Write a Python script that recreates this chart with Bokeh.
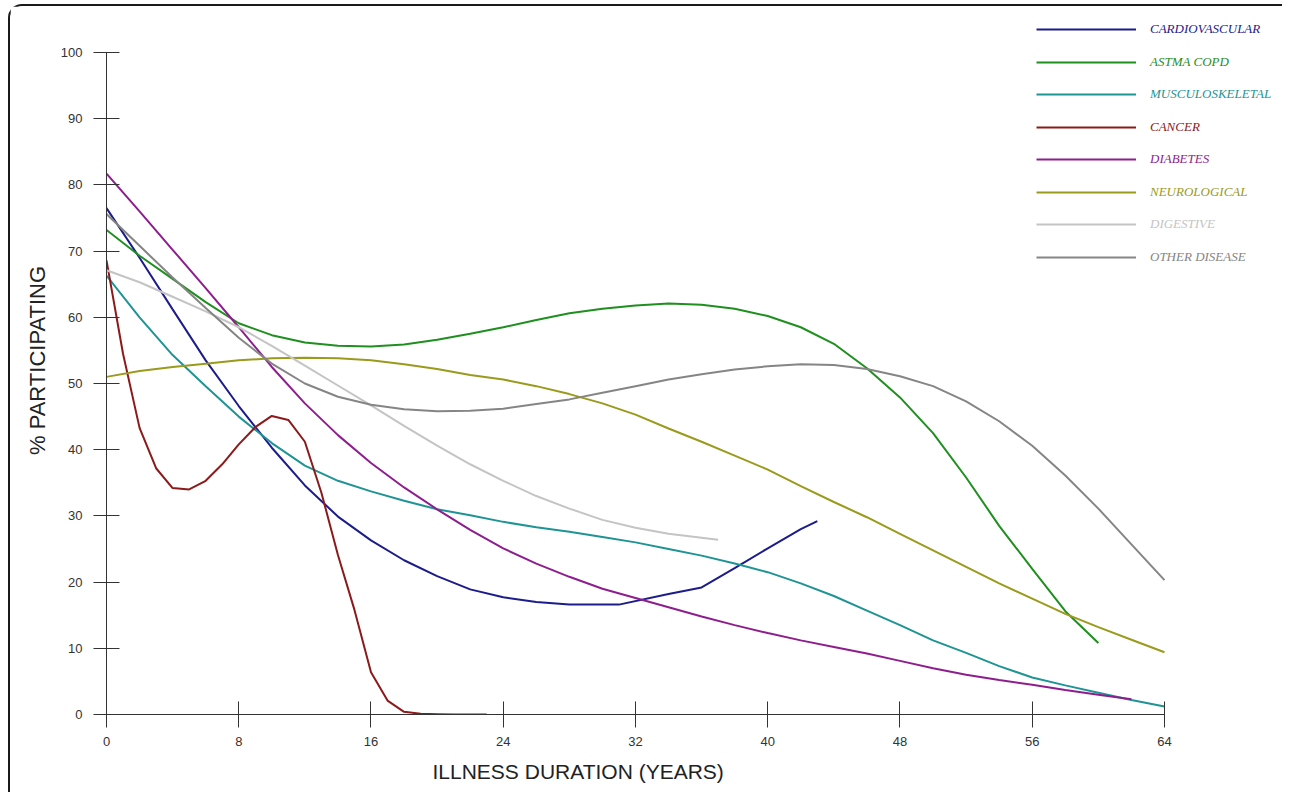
from bokeh.plotting import figure
from bokeh.models import Range1d, FixedTicker, Legend, LegendItem, Title
from bokeh.embed import file_html
from bokeh.resources import INLINE

# ---------------- data ----------------
x_ticks = [0, 8, 16, 24, 32, 40, 48, 56, 64]
y_ticks = [0, 10, 20, 30, 40, 50, 60, 70, 80, 90, 100]

names = ["CARDIOVASCULAR", "ASTMA COPD", "MUSCULOSKELETAL", "CANCER",
         "DIABETES", "NEUROLOGICAL", "DIGESTIVE", "OTHER DISEASE"]
colors = ["#1c1c8c", "#1f8f1f", "#1f9494", "#8c1a1a",
          "#8e1e8e", "#9a9a1c", "#c4c4c4", "#858585"]

cardio_x = [0, 2, 4, 6, 8, 10, 12, 14, 16, 18, 20, 22, 24, 26, 28, 31, 34, 36, 38, 40, 42, 43]
cardio_y = [76.5, 69.0, 61.2, 53.5, 46.6, 40.3, 34.6, 29.9, 26.3, 23.3, 20.9, 18.9, 17.7, 17.0,
            16.6, 16.6, 18.2, 19.2, 22.1, 25.1, 28.0, 29.2]

copd_x = [0, 2, 4, 6, 8, 10, 12, 14, 16, 18, 20, 22, 24, 26, 28, 30, 32, 34, 36, 38, 40,
          42, 44, 46, 48, 50, 52, 54, 56, 58, 60]
copd_y = [73.2, 69.3, 65.8, 62.3, 59.1, 57.3, 56.2, 55.7, 55.6, 55.9, 56.6, 57.5, 58.5, 59.6,
          60.6, 61.3, 61.8, 62.1, 61.9, 61.3, 60.2, 58.5, 56.0, 52.3, 47.9, 42.5, 35.8, 28.5,
          22.0, 15.6, 10.8]

musculo_x = [0, 2, 4, 6, 8, 10, 12, 14, 16, 18, 20, 22, 24, 26, 28, 30, 32, 34, 36, 38, 40,
             42, 44, 46, 48, 50, 52, 54, 56, 58, 60, 62, 64]
musculo_y = [66.3, 60.0, 54.3, 49.6, 45.0, 41.0, 37.6, 35.3, 33.7, 32.3, 31.0, 30.1, 29.1, 28.3,
             27.6, 26.8, 26.0, 25.0, 24.0, 22.8, 21.5, 19.8, 17.9, 15.7, 13.5, 11.2, 9.3, 7.3,
             5.6, 4.4, 3.3, 2.2, 1.2]

cancer_x = [0, 1, 2, 3, 4, 5, 6, 7, 8, 9, 10, 11, 12, 13, 14, 15, 16, 17, 18, 19, 20, 21, 22, 23]
cancer_y = [68.6, 54.5, 43.3, 37.2, 34.2, 34.0, 35.3, 37.8, 40.8, 43.4, 45.1, 44.5, 41.2, 33.5,
            24.1, 15.8, 6.4, 2.1, 0.4, 0.1, 0.05, 0.0, 0.0, 0.0]

diabetes_x = [0, 2, 4, 6, 8, 10, 12, 14, 16, 18, 20, 22, 24, 26, 28, 30, 32, 34, 36, 38, 40,
              42, 44, 46, 48, 50, 52, 54, 56, 58, 60, 62]
diabetes_y = [81.7, 76.0, 70.2, 64.4, 58.5, 52.5, 47.0, 42.2, 38.0, 34.3, 31.0, 27.9, 25.1, 22.8,
              20.8, 19.0, 17.6, 16.2, 14.8, 13.5, 12.3, 11.2, 10.2, 9.2, 8.1, 7.0, 6.0, 5.2,
              4.5, 3.7, 3.0, 2.3]

neuro_x = [0, 2, 4, 6, 8, 10, 12, 14, 16, 18, 20, 22, 24, 26, 28, 30, 32, 34, 36, 38, 40,
           42, 44, 46, 48, 50, 52, 54, 56, 58, 60, 62, 64]
neuro_y = [51.0, 51.9, 52.5, 53.0, 53.5, 53.8, 53.9, 53.8, 53.5, 52.9, 52.2, 51.3, 50.6, 49.6,
           48.4, 47.0, 45.3, 43.2, 41.2, 39.1, 37.0, 34.5, 32.1, 29.8, 27.3, 24.8, 22.3, 19.8,
           17.5, 15.2, 13.2, 11.3, 9.4]

digestive_x = [0, 2, 4, 6, 8, 10, 12, 14, 16, 18, 20, 22, 24, 26, 28, 30, 32, 34, 36, 37]
digestive_y = [67.1, 65.3, 63.1, 60.9, 58.5, 55.7, 52.7, 49.7, 46.7, 43.6, 40.6, 37.8, 35.3, 33.0,
               31.1, 29.4, 28.2, 27.3, 26.7, 26.4]

other_x = [0, 2, 4, 6, 8, 10, 12, 14, 16, 18, 20, 22, 24, 26, 28, 30, 32, 34, 36, 38, 40,
           42, 44, 46, 48, 50, 52, 54, 56, 58, 60, 62, 64]
other_y = [75.6, 70.8, 66.0, 61.4, 56.9, 53.0, 50.0, 48.0, 46.8, 46.1, 45.8, 45.9, 46.2, 46.9,
           47.6, 48.6, 49.6, 50.6, 51.4, 52.1, 52.6, 52.9, 52.8, 52.2, 51.1, 49.6, 47.3, 44.3,
           40.6, 36.1, 31.1, 25.7, 20.3]

series_x = [cardio_x, copd_x, musculo_x, cancer_x, diabetes_x, neuro_x, digestive_x, other_x]
series_y = [cardio_y, copd_y, musculo_y, cancer_y, diabetes_y, neuro_y, digestive_y, other_y]

# ---------------- figure ----------------
W, H = 1274, 788
p = figure(width=W, height=H, output_backend="svg", toolbar_location=None,
           x_range=Range1d(0, 71.26), y_range=Range1d(0, 106.95),
           min_border_left=96, min_border_right=0, min_border_top=0, min_border_bottom=80,
           background_fill_color="white", border_fill_color="white")
p.outline_line_color = None
p.xgrid.visible = False
p.ygrid.visible = False
p.styles = {"margin-left": "8px", "margin-top": "4px",
            "border-top": "2px solid #1a1a1a", "border-left": "2px solid #1a1a1a",
            "border-top-left-radius": "14px"}

for ax, ticks, bounds, standoff in ((p.xaxis, x_ticks, (0, 64), 9), (p.yaxis, y_ticks, (0, 100), 11)):
    ax.ticker = FixedTicker(ticks=ticks)
    ax.bounds = bounds
    ax.major_tick_in = 13
    ax.major_tick_out = 13
    ax.minor_tick_line_color = None
    ax.major_tick_line_color = "#333333"
    ax.axis_line_color = "#333333"
    ax.major_label_standoff = standoff
    ax.major_label_text_font = "Liberation Sans"
    ax.major_label_text_font_size = "13px"
    ax.major_label_text_color = "#333333"

p.yaxis.axis_label = "% PARTICIPATING"
p.yaxis.axis_label_text_font = "Liberation Sans"
p.yaxis.axis_label_text_font_size = "22px"
p.yaxis.axis_label_text_font_style = "normal"
p.yaxis.axis_label_text_color = "#222222"
p.yaxis.axis_label_standoff = 8

p.add_layout(Title(text="ILLNESS DURATION (YEARS)", align="left", offset=326, standoff=19,
                   text_font="Liberation Sans", text_font_size="21px",
                   text_font_style="normal", text_color="#222222"), "below")

legend_rows = [29.3, 61.7, 94.3, 126.7, 159.0, 191.7, 224.0, 256.7]

renderers = []
for xs, ys, c in zip(series_x, series_y, colors):
    renderers.append(p.line(xs, ys, line_color=c, line_width=2))

for name, c, r, yc in zip(names, colors, renderers, legend_rows):
    leg = Legend(items=[LegendItem(label=name, renderers=[r])],
                 location=(930, 714 - (yc + 10)),
                 padding=0, margin=0, spacing=0,
                 glyph_width=100, glyph_height=20, label_height=20, label_standoff=14,
                 label_text_font="Liberation Serif", label_text_font_style="italic",
                 label_text_font_size="13px", label_text_color=c,
                 border_line_color=None, background_fill_alpha=0)
    p.add_layout(leg)

open("out.html", "w").write(file_html(p, INLINE))
